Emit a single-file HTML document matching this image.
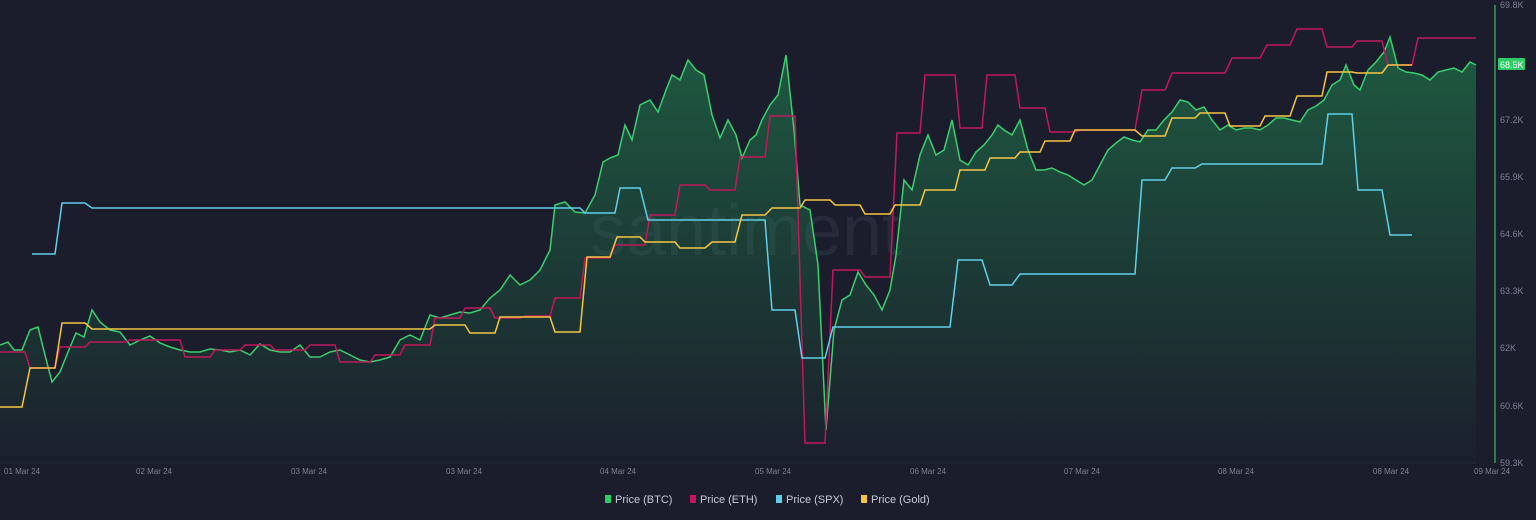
<!DOCTYPE html>
<html><head><meta charset="utf-8"><style>
html,body{margin:0;padding:0;background:#1b1d2c;width:1536px;height:520px;overflow:hidden;font-family:"Liberation Sans",sans-serif}
</style></head><body>
<svg width="1536" height="520" viewBox="0 0 1536 520" xmlns="http://www.w3.org/2000/svg">
<defs><linearGradient id="g" x1="0" y1="0" x2="0" y2="1"><stop offset="0" stop-color="#22a55a" stop-opacity="0.45"/><stop offset="1" stop-color="#22a55a" stop-opacity="0.02"/></linearGradient></defs>
<rect width="1536" height="520" fill="#1b1d2c"/>
<text x="590" y="255" font-size="72" fill="#262a3a" font-family="Liberation Sans,sans-serif">santiment</text>
<line x1="0" y1="463" x2="1476" y2="463" stroke="#262938"/>
<line x1="1495" y1="5" x2="1495" y2="463" stroke="#2f9e5e" stroke-width="1.5"/>
<polygon fill="url(#g)" points="0,463 0,345 8,342 14,350 22,350 30,330 38,327 45,355 52,382 60,372 68,352 76,333 84,337 92,310 100,322 110,330 120,332 130,345 140,340 150,336 160,343 170,347 180,350 190,352 200,352 210,349 220,350 230,352 240,350 250,355 260,344 270,350 280,352 290,352 300,345 310,357 320,357 330,352 340,350 350,355 360,360 370,362 380,360 390,357 400,340 410,335 420,340 430,315 440,318 450,315 460,312 470,313 480,310 490,298 500,290 510,275 520,285 530,280 540,270 550,250 555,205 565,202 575,212 585,213 595,195 603,162 610,158 618,155 625,125 632,140 640,105 650,100 658,112 666,90 672,75 680,80 688,60 696,70 704,75 712,115 720,138 728,120 736,135 742,158 750,140 756,135 762,120 770,105 778,95 786,55 794,130 800,205 810,210 818,265 826,430 834,330 842,300 850,295 858,272 866,285 874,295 882,310 890,290 896,255 904,180 912,190 920,155 928,135 936,155 944,150 952,120 960,160 968,165 976,152 984,145 992,135 998,125 1004,130 1012,135 1020,120 1028,150 1036,170 1044,170 1052,168 1060,172 1068,175 1076,180 1084,185 1092,180 1100,165 1108,150 1116,143 1124,137 1132,140 1140,142 1148,130 1156,130 1164,120 1172,112 1180,100 1188,102 1196,110 1204,107 1212,120 1220,130 1228,125 1236,130 1244,128 1252,128 1260,130 1268,125 1276,118 1284,118 1292,120 1300,122 1308,110 1316,106 1324,100 1332,85 1340,80 1346,65 1354,85 1360,90 1368,70 1376,62 1384,52 1390,37 1398,68 1406,72 1414,73 1422,75 1430,80 1438,72 1446,70 1454,68 1462,72 1470,62 1476,65 1476,463"/>
<polyline fill="none" stroke="#3ccf6e" stroke-width="1.5" points="0,345 8,342 14,350 22,350 30,330 38,327 45,355 52,382 60,372 68,352 76,333 84,337 92,310 100,322 110,330 120,332 130,345 140,340 150,336 160,343 170,347 180,350 190,352 200,352 210,349 220,350 230,352 240,350 250,355 260,344 270,350 280,352 290,352 300,345 310,357 320,357 330,352 340,350 350,355 360,360 370,362 380,360 390,357 400,340 410,335 420,340 430,315 440,318 450,315 460,312 470,313 480,310 490,298 500,290 510,275 520,285 530,280 540,270 550,250 555,205 565,202 575,212 585,213 595,195 603,162 610,158 618,155 625,125 632,140 640,105 650,100 658,112 666,90 672,75 680,80 688,60 696,70 704,75 712,115 720,138 728,120 736,135 742,158 750,140 756,135 762,120 770,105 778,95 786,55 794,130 800,205 810,210 818,265 826,430 834,330 842,300 850,295 858,272 866,285 874,295 882,310 890,290 896,255 904,180 912,190 920,155 928,135 936,155 944,150 952,120 960,160 968,165 976,152 984,145 992,135 998,125 1004,130 1012,135 1020,120 1028,150 1036,170 1044,170 1052,168 1060,172 1068,175 1076,180 1084,185 1092,180 1100,165 1108,150 1116,143 1124,137 1132,140 1140,142 1148,130 1156,130 1164,120 1172,112 1180,100 1188,102 1196,110 1204,107 1212,120 1220,130 1228,125 1236,130 1244,128 1252,128 1260,130 1268,125 1276,118 1284,118 1292,120 1300,122 1308,110 1316,106 1324,100 1332,85 1340,80 1346,65 1354,85 1360,90 1368,70 1376,62 1384,52 1390,37 1398,68 1406,72 1414,73 1422,75 1430,80 1438,72 1446,70 1454,68 1462,72 1470,62 1476,65"/>
<polyline fill="none" stroke="#c2185b" stroke-width="1.5" points="0,352 25,352 30,368 55,368 60,347 85,347 90,342 125,342 130,340 180,340 185,357 210,357 215,350 240,350 245,345 270,345 275,350 305,350 310,345 335,345 340,362 370,362 375,355 400,355 405,345 430,345 435,318 460,318 465,308 490,308 495,318 520,318 525,316 550,316 555,298 580,298 585,258 610,258 615,245 645,245 650,215 675,215 680,185 705,185 710,190 735,190 740,157 765,157 770,116 795,116 805,443 825,443 833,270 860,270 865,277 890,277 897,133 920,133 925,75 955,75 960,128 982,128 987,75 1015,75 1020,108 1045,108 1050,132 1075,132 1080,130 1135,130 1142,90 1165,90 1172,73 1225,73 1232,58 1260,58 1267,45 1290,45 1297,29 1322,29 1327,47 1352,47 1357,41 1382,41 1388,65 1412,65 1418,38 1476,38"/>
<polyline fill="none" stroke="#5fd0ea" stroke-width="1.5" points="32,254 55,254 62,203 85,203 92,208 580,208 585,213 615,213 620,188 640,188 648,220 765,220 772,310 795,310 802,358 825,358 833,327 950,327 958,260 982,260 990,285 1012,285 1020,274 1135,274 1142,180 1165,180 1172,168 1195,168 1202,164 1322,164 1328,114 1352,114 1358,190 1382,190 1390,235 1412,235"/>
<polyline fill="none" stroke="#f5c542" stroke-width="1.5" points="0,407 22,407 30,368 55,368 62,323 85,323 92,329 430,329 435,325 465,325 470,333 495,333 500,317 550,317 555,332 580,332 587,257 610,257 617,237 640,237 645,242 675,242 680,248 705,248 712,242 735,242 742,215 765,215 772,208 800,208 805,200 830,200 835,205 860,205 865,214 890,214 895,205 920,205 925,190 955,190 960,170 985,170 990,158 1015,158 1020,152 1040,152 1045,141 1070,141 1075,130 1135,130 1142,136 1165,136 1172,118 1195,118 1200,113 1225,113 1230,126 1260,126 1265,116 1290,116 1297,96 1322,96 1327,72 1352,72 1357,73 1382,73 1388,65 1412,65"/>
<g font-size="9" fill="#7c8194">
<text x="1500" y="8">69.8K</text>
<text x="1500" y="123">67.2K</text>
<text x="1500" y="180">65.9K</text>
<text x="1500" y="237">64.6K</text>
<text x="1500" y="294">63.3K</text>
<text x="1500" y="351">62K</text>
<text x="1500" y="409">60.6K</text>
<text x="1500" y="466">59.3K</text>
</g>
<rect x="1498" y="58" width="27" height="12" fill="#2ecc65" rx="1"/>
<text x="1500" y="68" font-size="9" fill="#fff">68.5K</text>
<g font-size="8" fill="#7c8194">
<text x="4" y="474">01 Mar 24</text>
<text x="136" y="474">02 Mar 24</text>
<text x="291" y="474">03 Mar 24</text>
<text x="446" y="474">03 Mar 24</text>
<text x="600" y="474">04 Mar 24</text>
<text x="755" y="474">05 Mar 24</text>
<text x="910" y="474">06 Mar 24</text>
<text x="1064" y="474">07 Mar 24</text>
<text x="1218" y="474">08 Mar 24</text>
<text x="1373" y="474">08 Mar 24</text>
<text x="1474" y="474">09 Mar 24</text>
</g>
<g font-size="11" fill="#c8cbd6">
<rect x="605" y="495" width="6" height="8" fill="#2ecc65"/><text x="615" y="503">Price (BTC)</text>
<rect x="690" y="495" width="6" height="8" fill="#c2185b"/><text x="700" y="503">Price (ETH)</text>
<rect x="776" y="495" width="6" height="8" fill="#5fd0ea"/><text x="786" y="503">Price (SPX)</text>
<rect x="861" y="495" width="6" height="8" fill="#f5c542"/><text x="871" y="503">Price (Gold)</text>
</g>
</svg>
</body></html>
